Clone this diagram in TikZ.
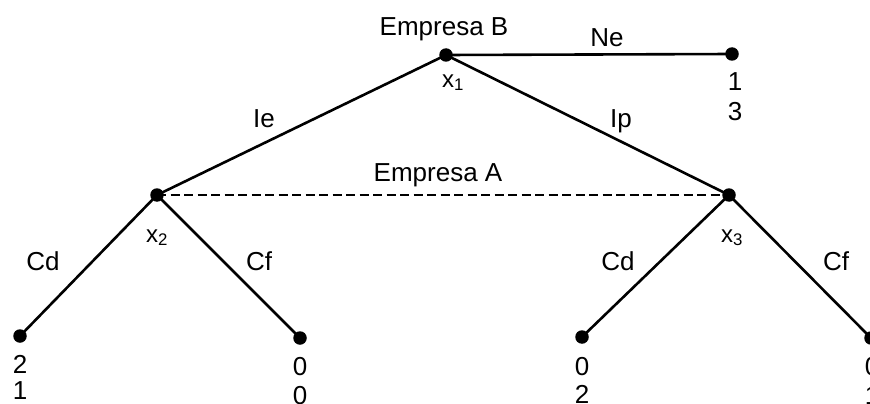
\documentclass[tikz,border=0pt]{standalone}
\usepackage{fontspec}
\setmainfont{Liberation Sans}
\begin{document}
\begin{tikzpicture}[x=1pt,y=-1pt,
  dot/.style={circle,fill=black,inner sep=0pt,minimum size=13.5pt},
  edge/.style={line width=2.6pt},
  lbl/.style={anchor=base,inner sep=0pt,font=\fontsize{26}{30}\selectfont},
  sub/.style={anchor=base,inner sep=0pt,font=\fontsize{24}{28}\selectfont}]
\useasboundingbox (0,0) rectangle (870,404);
% decision nodes
\node[dot] (x1) at (446,55) {};
\node[dot] (x2) at (157,195) {};
\node[dot] (x3) at (729,195) {};
% terminal nodes
\node[dot] (ne) at (732,54) {};
\node[dot] (l1) at (20,336) {};
\node[dot] (l2) at (300,338) {};
\node[dot] (l3) at (582,337) {};
\node[dot] (l4) at (871,338) {};
% edges
\draw[edge] (x1.center) -- (ne.center);
\draw[edge] (x1.center) -- (x2.center);
\draw[edge] (x1.center) -- (x3.center);
\draw[edge] (x2.center) -- (l1.center);
\draw[edge] (x2.center) -- (l2.center);
\draw[edge] (x3.center) -- (l3.center);
\draw[edge] (x3.center) -- (l4.center);
\draw[line width=2.4pt,dash pattern=on 9pt off 4.5pt] (x2.center) -- (x3.center);
% labels
\node[lbl] (eb) at (444,36) {Empresa B};
\node[lbl] (tne) at (607,47) {Ne};
\node[lbl] (tie) at (264,127) {Ie};
\node[lbl] (tip) at (621,127) {Ip};
\node[lbl] (ea) at (438,181) {Empresa A};
\node[lbl] (cd1) at (43,270) {Cd};
\node[lbl] (cf1) at (259,270) {Cf};
\node[lbl] (cd2) at (618,270) {Cd};
\node[lbl] (cf2) at (836,270) {Cf};
\node[sub] (sx1) at (453,87) {x\textsubscript{1}};
\node[sub] (sx2) at (157,242) {x\textsubscript{2}};
\node[sub] (sx3) at (732,242) {x\textsubscript{3}};
% payoffs
\node[lbl] (p0a) at (735,90) {1};
\node[lbl] (p0b) at (735,120) {3};
\node[lbl] (p1a) at (20,373) {2};
\node[lbl] (p1b) at (20,399) {1};
\node[lbl] (p2a) at (300,375) {0};
\node[lbl] (p2b) at (300,404) {0};
\node[lbl] (p3a) at (582,375) {0};
\node[lbl] (p3b) at (582,403) {2};
\node[lbl] (p4a) at (872,375) {0};
\node[lbl] (p4b) at (872,404) {1};
\end{tikzpicture}
\end{document}
